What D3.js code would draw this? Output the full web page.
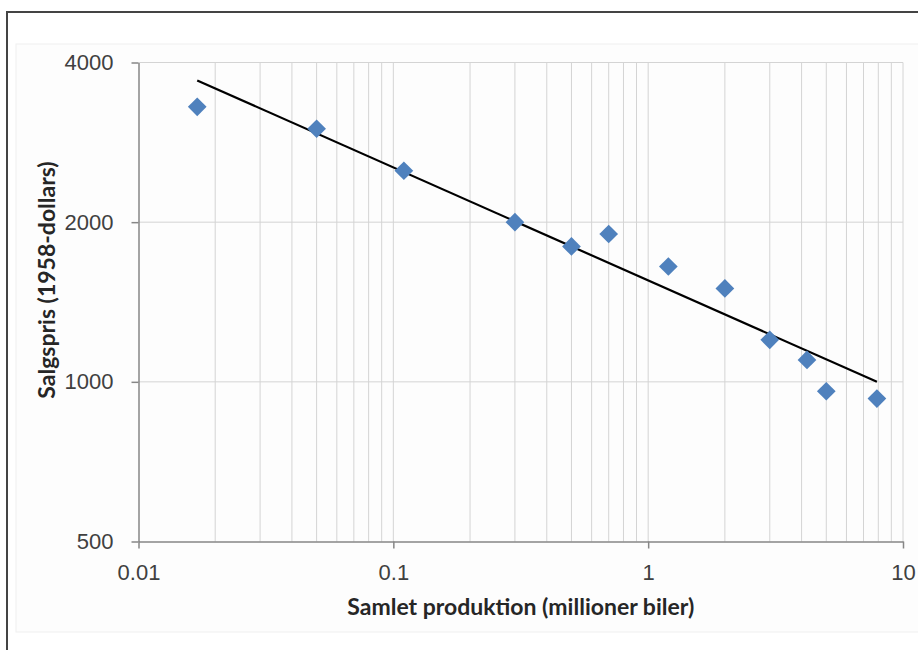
<!DOCTYPE html>
<html lang="da">
<head>
<meta charset="UTF-8">
<title>Salgspris mod samlet produktion</title>
<script src="https://d3js.org/d3.v7.min.js"></script>
<style>
    body {
        margin: 0;
        background-color: white;
    }
    svg {
        display: block;
        font-family: Lato, "Open Sans", sans-serif;
    }
    .axis text {
        font-size: 22px;
        fill: #404040;
    }
    .axis path, .axis line {
        stroke: #868686;
        stroke-width: 1.5px;
    }
    .grid line {
        stroke: #d4d4d4;
        stroke-width: 1px;
    }
    .title {
        font-size: 23px;
        font-weight: bold;
        fill: #262626;
        text-anchor: middle;
    }
</style>
</head>
<body>
<svg width="918" height="650"></svg>
<script>
    // data
    const production = [0.017, 0.05, 0.11, 0.3, 0.5, 0.7, 1.2, 2, 3, 4.2, 5, 7.9];
    const price = [3300, 3000, 2500, 2000, 1800, 1900, 1650, 1500, 1200, 1100, 960, 930];
    const trendX = [0.017, 7.9];
    const trendY = [3700, 1000];
    const xTicks = [0.01, 0.1, 1, 10];
    const yTicks = [500, 1000, 2000, 4000];

    const svg = d3.select("svg");

    const plotLeft = 138.5, plotRight = 903, plotTop = 62.5, plotBottom = 541.5;

    const x = d3.scaleLog().domain([0.01, 10]).range([plotLeft, plotRight]);
    const y = d3.scaleLog().base(2).domain([500, 4000]).range([plotBottom, plotTop]);

    // outer frame + chart area
    svg.append("rect")
        .attr("x", 16).attr("y", 44)
        .attr("width", 940).attr("height", 588)
        .attr("fill", "#fdfdfd")
        .attr("stroke", "#efefef");
    svg.append("rect")
        .attr("x", 7).attr("y", 12)
        .attr("width", 960).attr("height", 700)
        .attr("fill", "none")
        .attr("stroke", "#444")
        .attr("stroke-width", 2);

    // grid
    const grid = svg.append("g").attr("class", "grid");
    grid.selectAll(".vx")
        .data(x.ticks().filter(d => d > 0.01))
        .enter()
        .append("line")
        .attr("x1", d => x(d)).attr("x2", d => x(d))
        .attr("y1", plotTop).attr("y2", plotBottom);
    grid.selectAll(".hy")
        .data(yTicks.filter(d => d > 500))
        .enter()
        .append("line")
        .attr("x1", plotLeft).attr("x2", plotRight)
        .attr("y1", d => y(d)).attr("y2", d => y(d));

    // axes
    const fmt = d => String(d);
    svg.append("g")
        .attr("class", "axis")
        .attr("transform", `translate(0,${plotBottom})`)
        .call(d3.axisBottom(x).tickValues(xTicks).tickFormat(fmt).tickSize(7).tickSizeOuter(0).tickPadding(16));
    svg.append("g")
        .attr("class", "axis")
        .attr("transform", `translate(${plotLeft},0)`)
        .call(d3.axisLeft(y).tickValues(yTicks).tickFormat(fmt).tickSize(7).tickSizeOuter(0).tickPadding(18));

    // trend line
    svg.append("line")
        .attr("x1", x(trendX[0])).attr("y1", y(trendY[0]))
        .attr("x2", x(trendX[1])).attr("y2", y(trendY[1]))
        .attr("stroke", "black")
        .attr("stroke-width", 2.2);

    // points (diamonds)
    svg.selectAll(".pt")
        .data(production.map((p, i) => [p, price[i]]))
        .enter()
        .append("path")
        .attr("class", "pt")
        .attr("d", d3.symbol(d3.symbolSquare, 175))
        .attr("transform", d => `translate(${x(d[0])},${y(d[1])}) rotate(45)`)
        .attr("fill", "#4f81bd");

    // titles
    svg.append("text")
        .attr("class", "title")
        .attr("x", (plotLeft + plotRight) / 2)
        .attr("y", 615)
        .text("Samlet produktion (millioner biler)");
    svg.append("text")
        .attr("class", "title")
        .attr("transform", "translate(55,280) rotate(-90)")
        .text("Salgspris (1958-dollars)");
</script>
</body>
</html>
